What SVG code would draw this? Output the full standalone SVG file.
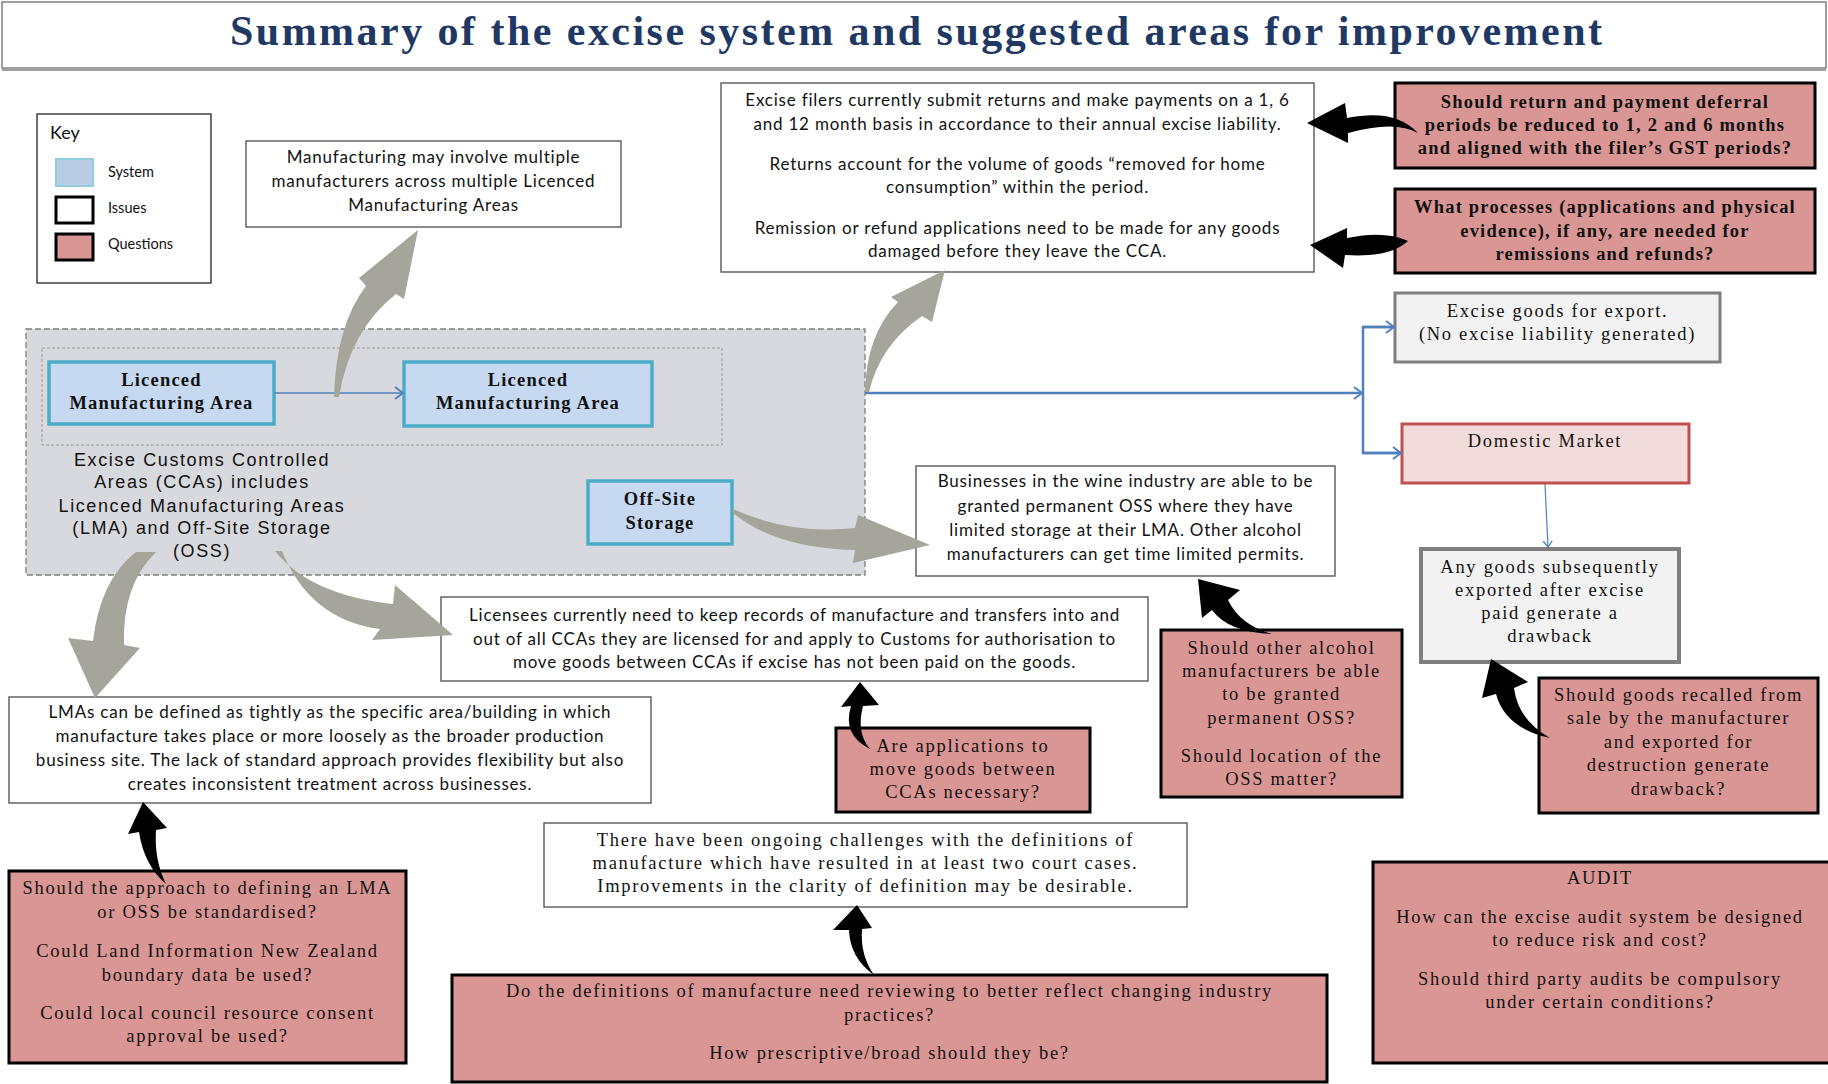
<svg xmlns="http://www.w3.org/2000/svg" width="1828" height="1084" viewBox="0 0 1828 1084">
<style>
.bg{fill:#ffffff}
.title{font-family:"Liberation Serif",serif;font-weight:bold;font-size:42px;fill:#1f3864;text-anchor:middle}
.issue{fill:#ffffff;stroke:#595959;stroke-width:1.4}
.q{fill:#da9694;stroke:#000000;stroke-width:3}
.sys{fill:#c6d9f1;stroke:#4bacc6;stroke-width:3.5}
.cal{font-family:Lato,"Liberation Sans",sans-serif;font-size:17px;fill:#111;text-anchor:middle;letter-spacing:0.8px}
.cam{font-family:"Liberation Serif",serif;font-size:18.5px;fill:#111;text-anchor:middle;letter-spacing:1.7px}
.camb{font-family:"Liberation Serif",serif;font-weight:bold;font-size:18.5px;fill:#111;text-anchor:middle;letter-spacing:1.2px}
.cca{font-family:"Liberation Sans",Arial,sans-serif;font-size:18px;fill:#111;text-anchor:middle;letter-spacing:1.6px}
.key{font-family:Lato,"Liberation Sans",sans-serif;font-size:14.5px;fill:#111}
.gray{fill:#a6a59b}
.blk{fill:#000}
.blue{fill:none;stroke:#4f81bd}
</style>
<defs>
<marker id="ah" markerWidth="14" markerHeight="14" refX="11" refY="7" orient="auto" markerUnits="userSpaceOnUse">
<path d="M3,1 L11,7 L3,13" fill="none" stroke="#4f81bd" stroke-width="2"/>
</marker>
<marker id="ahs" markerWidth="12" markerHeight="12" refX="9" refY="6" orient="auto" markerUnits="userSpaceOnUse">
<path d="M3,1.5 L9,6 L3,10.5" fill="none" stroke="#4f81bd" stroke-width="1.3"/>
</marker>
</defs>
<rect class="bg" x="0" y="0" width="1828" height="1084"/>

<g id="title">
<rect x="2" y="2" width="1824" height="66" fill="#fff" stroke="#7f7f7f" stroke-width="1.5"/>
<line x1="2" y1="70" x2="1826" y2="70" stroke="#a0a0a0" stroke-width="2"/>
<text class="title" x="916" y="45" textLength="1372" lengthAdjust="spacing">Summary of the excise system and suggested areas for improvement</text>
</g>

<g id="key">
<rect x="37" y="114" width="174" height="169" fill="#fff" stroke="#333" stroke-width="1.4"/>
<text class="key" x="50" y="139" style="font-size:18px">Key</text>
<rect x="56" y="159" width="37" height="27" fill="#b9cde5" stroke="#93cddd" stroke-width="2"/>
<rect x="56" y="197" width="37" height="26" fill="#fff" stroke="#000" stroke-width="3"/>
<rect x="56" y="234" width="37" height="26" fill="#d99694" stroke="#000" stroke-width="3"/>
<text class="key" x="108" y="177">System</text>
<text class="key" x="108" y="213">Issues</text>
<text class="key" x="108" y="249">Questions</text>
</g>

<g id="cca">
<rect x="26" y="329" width="839" height="246" fill="#d8d9de" stroke="#7f7f7f" stroke-width="1.3" stroke-dasharray="6,3"/>
<rect x="42" y="348" width="680" height="97" fill="none" stroke="#9a9a9a" stroke-width="1" stroke-dasharray="3,2"/>
<text class="cca" x="202" y="466">Excise Customs Controlled</text>
<text class="cca" x="202" y="488">Areas (CCAs) includes</text>
<text class="cca" x="202" y="512">Licenced Manufacturing Areas</text>
<text class="cca" x="202" y="534">(LMA) and Off-Site Storage</text>
<text class="cca" x="202" y="557">(OSS)</text>
</g>

<g id="lma1">
<rect class="sys" x="49" y="362" width="225" height="62"/>
<text class="camb" x="161.5" y="386">Licenced</text>
<text class="camb" x="161.5" y="409">Manufacturing Area</text>
</g>
<g id="lma2">
<rect class="sys" x="404" y="362" width="248" height="64"/>
<text class="camb" x="528" y="386">Licenced</text>
<text class="camb" x="528" y="409">Manufacturing Area</text>
</g>
<g id="offsite">
<rect class="sys" x="588" y="481" width="144" height="63"/>
<text class="camb" x="660" y="505">Off-Site</text>
<text class="camb" x="660" y="529">Storage</text>
</g>

<g id="manufacturing">
<rect class="issue" x="246" y="141" width="375" height="86"/>
<text class="cal" x="433.5" y="163">Manufacturing may involve multiple</text>
<text class="cal" x="433.5" y="187">manufacturers across multiple Licenced</text>
<text class="cal" x="433.5" y="211">Manufacturing Areas</text>
</g>

<g id="filers">
<rect class="issue" x="721" y="83" width="593" height="189"/>
<text class="cal" x="1017.5" y="106">Excise filers currently submit returns and make payments on a 1, 6</text>
<text class="cal" x="1017.5" y="130">and 12 month basis in accordance to their annual excise liability.</text>
<text class="cal" x="1017.5" y="170">Returns account for the volume of goods “removed for home</text>
<text class="cal" x="1017.5" y="193">consumption” within the period.</text>
<text class="cal" x="1017.5" y="234">Remission or refund applications need to be made for any goods</text>
<text class="cal" x="1017.5" y="257">damaged before they leave the CCA.</text>
</g>

<g id="q-deferral">
<rect class="q" x="1395" y="83" width="420" height="85"/>
<text class="camb" x="1605" y="108">Should return and payment deferral</text>
<text class="camb" x="1605" y="131">periods be reduced to 1, 2 and 6 months</text>
<text class="camb" x="1605" y="154">and aligned with the filer’s GST periods?</text>
</g>
<g id="q-remission">
<rect class="q" x="1395" y="189" width="420" height="84"/>
<text class="camb" x="1605" y="213">What processes (applications and physical</text>
<text class="camb" x="1605" y="237">evidence), if any, are needed for</text>
<text class="camb" x="1605" y="260">remissions and refunds?</text>
</g>

<g id="export">
<rect x="1395" y="293" width="325" height="69" fill="#f2f2f2" stroke="#7f7f7f" stroke-width="3"/>
<text class="cam" x="1557.5" y="317">Excise goods for export.</text>
<text class="cam" x="1557.5" y="340">(No excise liability generated)</text>
</g>
<g id="domestic">
<rect x="1402" y="424" width="287" height="59" fill="#f2dcdb" stroke="#c0504d" stroke-width="3"/>
<text class="cam" x="1545" y="447">Domestic Market</text>
</g>
<g id="drawback">
<rect x="1421" y="549" width="258" height="113" fill="#f2f2f2" stroke="#7f7f7f" stroke-width="4"/>
<text class="cam" x="1550" y="573">Any goods subsequently</text>
<text class="cam" x="1550" y="596">exported after excise</text>
<text class="cam" x="1550" y="619">paid generate a</text>
<text class="cam" x="1550" y="642">drawback</text>
</g>

<g id="oss">
<rect class="issue" x="916" y="466" width="419" height="110"/>
<text class="cal" x="1125.5" y="487">Businesses in the wine industry are able to be</text>
<text class="cal" x="1125.5" y="512">granted permanent OSS where they have</text>
<text class="cal" x="1125.5" y="536">limited storage at their LMA. Other alcohol</text>
<text class="cal" x="1125.5" y="560">manufacturers can get time limited permits.</text>
</g>

<g id="licensees">
<rect class="issue" x="441" y="597" width="707" height="84"/>
<text class="cal" x="794.5" y="621">Licensees currently need to keep records of manufacture and transfers into and</text>
<text class="cal" x="794.5" y="645">out of all CCAs they are licensed for and apply to Customs for authorisation to</text>
<text class="cal" x="794.5" y="668">move goods between CCAs if excise has not been paid on the goods.</text>
</g>

<g id="q-applications">
<rect class="q" x="836" y="728" width="254" height="84"/>
<text class="cam" x="963" y="752">Are applications to</text>
<text class="cam" x="963" y="775">move goods between</text>
<text class="cam" x="963" y="798">CCAs necessary?</text>
</g>

<g id="q-oss">
<rect class="q" x="1161" y="630" width="241" height="167"/>
<text class="cam" x="1281.5" y="654">Should other alcohol</text>
<text class="cam" x="1281.5" y="677">manufacturers be able</text>
<text class="cam" x="1281.5" y="700">to be granted</text>
<text class="cam" x="1281.5" y="724">permanent OSS?</text>
<text class="cam" x="1281.5" y="762">Should location of the</text>
<text class="cam" x="1281.5" y="785">OSS matter?</text>
</g>

<g id="q-recalled">
<rect class="q" x="1539" y="678" width="279" height="135"/>
<text class="cam" x="1678.5" y="701">Should goods recalled from</text>
<text class="cam" x="1678.5" y="724">sale by the manufacturer</text>
<text class="cam" x="1678.5" y="748">and exported for</text>
<text class="cam" x="1678.5" y="771">destruction generate</text>
<text class="cam" x="1678.5" y="795">drawback?</text>
</g>

<g id="lmas">
<rect class="issue" x="9" y="697" width="642" height="106"/>
<text class="cal" x="330" y="718">LMAs can be defined as tightly as the specific area/building in which</text>
<text class="cal" x="330" y="742">manufacture takes place or more loosely as the broader production</text>
<text class="cal" x="330" y="766">business site. The lack of standard approach provides flexibility but also</text>
<text class="cal" x="330" y="790">creates inconsistent treatment across businesses.</text>
</g>

<g id="q-approach">
<rect class="q" x="9" y="871" width="397" height="192"/>
<text class="cam" x="207.5" y="894">Should the approach to defining an LMA</text>
<text class="cam" x="207.5" y="918">or OSS be standardised?</text>
<text class="cam" x="207.5" y="957">Could Land Information New Zealand</text>
<text class="cam" x="207.5" y="981">boundary data be used?</text>
<text class="cam" x="207.5" y="1019">Could local council resource consent</text>
<text class="cam" x="207.5" y="1042">approval be used?</text>
</g>

<g id="definitions">
<rect class="issue" x="544" y="823" width="643" height="84"/>
<text class="cam" x="865.5" y="846">There have been ongoing challenges with the definitions of</text>
<text class="cam" x="865.5" y="869">manufacture which have resulted in at least two court cases.</text>
<text class="cam" x="865.5" y="892">Improvements in the clarity of definition may be desirable.</text>
</g>

<g id="q-definitions">
<rect class="q" x="452" y="975" width="875" height="107"/>
<text class="cam" x="889.5" y="997">Do the definitions of manufacture need reviewing to better reflect changing industry</text>
<text class="cam" x="889.5" y="1021">practices?</text>
<text class="cam" x="889.5" y="1059">How prescriptive/broad should they be?</text>
</g>

<g id="q-audit">
<rect class="q" x="1373" y="862" width="460" height="201"/>
<text class="cam" x="1600" y="884">AUDIT</text>
<text class="cam" x="1600" y="923">How can the excise audit system be designed</text>
<text class="cam" x="1600" y="946">to reduce risk and cost?</text>
<text class="cam" x="1600" y="985">Should third party audits be compulsory</text>
<text class="cam" x="1600" y="1008">under certain conditions?</text>
</g>

<g id="connectors">
<line class="blue" x1="274" y1="393" x2="403" y2="393" stroke-width="1.5" marker-end="url(#ah)"/>
<line class="blue" x1="865" y1="393" x2="1362" y2="393" stroke-width="2.5" marker-end="url(#ah)"/>
<polyline class="blue" points="1394,327 1363,327 1363,453 1401,453" stroke-width="2.5"/>
<line class="blue" x1="1363" y1="327" x2="1394" y2="327" stroke-width="2.5" marker-end="url(#ah)"/>
<line class="blue" x1="1363" y1="453" x2="1401" y2="453" stroke-width="2.5" marker-end="url(#ah)"/>
<line class="blue" x1="1545" y1="484" x2="1548" y2="547" stroke-width="1.2" marker-end="url(#ahs)"/>

<path class="gray" d="M334,397 Q336,325 366,286 L359,278 L418,230 L404,299 L396,294 Q350,330 339,397 Z"/>
<path class="gray" d="M865,392 Q866,335 898,302 L891,297 L945,270 L932,322 L922,316 Q880,345 869,392 Z"/>
<path class="gray" d="M733,509 Q790,535 855,528 L858,515 L930,545 L853,563 L855,550 Q775,548 733,513 Z"/>
<path class="gray" d="M275,551 Q310,595 393,604 L395,585 L453,635 L372,640 L380,629 Q310,620 282,551 Z"/>
<path class="gray" d="M136,552 Q100,580 93,641 L68,638 L95,698 L140,648 L124,645 Q122,585 156,552 Z"/>

<path class="blk" d="M1307,123 L1345,103 L1347,118 Q1395,108 1418,133 Q1395,120 1348,133 L1348,143 Z"/>
<path class="blk" d="M1310,245 L1347,228 L1347,238 Q1385,230 1408,241 Q1390,258 1345,255 L1343,268 Z"/>
<path class="blk" d="M1198,579 L1240,590 L1228,600 Q1240,625 1272,634 Q1228,632 1212,610 L1202,618 Z"/>
<path class="blk" d="M860,682 L879,705 L863,706 Q856,733 870,749 Q842,735 851,706 L841,707 Z"/>
<path class="blk" d="M1491,659 L1528,682 L1514,688 Q1518,720 1550,738 Q1505,728 1496,694 L1482,698 Z"/>
<path class="blk" d="M143,802 L167,828 L156,830 Q154,860 166,884 Q144,865 139,832 L128,834 Z"/>
<path class="blk" d="M857,905 L872,928 L862,929 Q860,955 874,975 Q850,958 849,930 L833,930 Z"/>
</g>
</svg>
